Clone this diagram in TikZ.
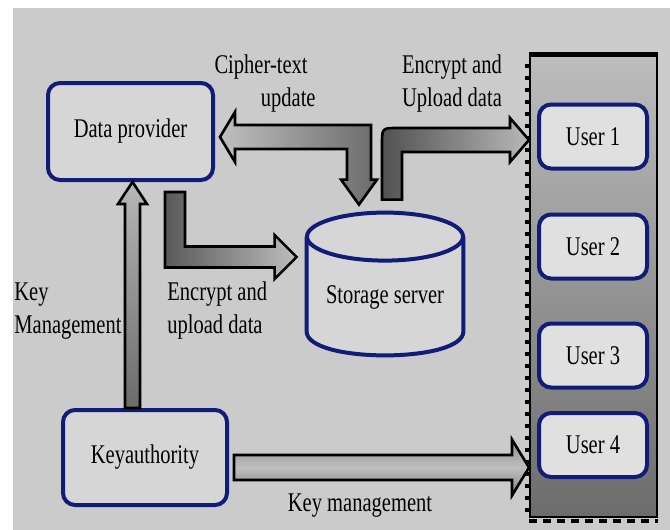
\documentclass[tikz,border=0pt]{standalone}
\usepackage{fontspec}
\setmainfont{Liberation Serif}[FakeStretch=0.76]
\usetikzlibrary{calc}
\definecolor{bggray}{HTML}{CBCBCB}
\definecolor{navyline}{RGB}{18,28,120}
\definecolor{boxfill}{HTML}{D6D6D6}
\definecolor{userfill}{HTML}{E0E0E0}
\definecolor{panellight}{HTML}{BDBDBD}
\definecolor{paneldark}{HTML}{6C6C6C}
\tikzset{
  roundbox/.style={draw=navyline, line width=2pt, rounded corners=6pt, fill=boxfill},
  userbox/.style={roundbox, fill=userfill, minimum width=54pt, minimum height=32pt},
  blockarrow/.style={draw=black, line width=1.3pt, line join=miter},
}
\begin{document}
\begin{tikzpicture}[x=0.5pt, y=-0.5pt,
  every node/.style={font=\fontsize{13.5}{16.5}\selectfont, inner sep=0pt}]
\useasboundingbox (0,0) rectangle (670,530);
\fill[bggray] (13,8) rectangle (670,530);

% user panel
\node[draw=black, line width=1pt, top color=panellight, bottom color=paneldark,
      minimum width=63.5pt, minimum height=231pt] (users) at (593.5,286) {};
\draw[line width=2.5pt] (users.north west) -- (users.north east);
\draw[dash pattern=on 2pt off 4pt, line width=2pt]
  ($(users.north west)+(-2,10)$) -- ($(users.south west)+(-2,0)$);
\draw[dash pattern=on 4pt off 3pt, line width=2pt]
  ($(users.south west)+(0,3)$) -- ($(users.south east)+(0,3)$);

\node[userbox] (u1) at (593,136.5) {User 1};
\node[userbox] (u2) at (593,246.5) {User 2};
\node[userbox] (u3) at (593,355.5) {User 3};
\node[userbox] (u4) at (593,445) {User 4};

% main boxes
\node[roundbox, minimum width=82.5pt, minimum height=48.5pt] (dp) at (130.5,131.5) {Data provider};
\node[roundbox, minimum width=82pt, minimum height=47.5pt] (ka) at (145,457.5) {Keyauthority};

% storage server cylinder
\node[minimum width=78pt, minimum height=71pt] (st) at (385,284) {};
\fill[boxfill] ($(st.north west)+(0,24)$) -- ($(st.south west)+(0,-24)$)
  .. controls ($(st.south west)+(0,8)$) and ($(st.south east)+(0,8)$) .. ($(st.south east)+(0,-24)$)
  -- ($(st.north east)+(0,24)$) -- cycle;
\draw[navyline, line width=2pt] ($(st.north west)+(0,24)$) -- ($(st.south west)+(0,-24)$)
  .. controls ($(st.south west)+(0,8)$) and ($(st.south east)+(0,8)$) .. ($(st.south east)+(0,-24)$)
  -- ($(st.north east)+(0,24)$);
\draw[navyline, line width=2pt, fill=boxfill] ($(st.north)+(0,24)$) ellipse [x radius=78, y radius=24];
\node (stlabel) at ($(st.center)+(0,13)$) {Storage server};

% key authority -> data provider
\coordinate (kS) at ($(ka.north)+(-12.5,0)$);
\coordinate (kT) at (kS |- dp.south);
\draw[blockarrow, top color=black!28, bottom color=black!58]
  ($(kS)+(-7.5,0)$) -- ($(kT)+(-7.5,22)$) -- ($(kT)+(-14.5,22)$) -- (kT)
  -- ($(kT)+(14.5,22)$) -- ($(kT)+(7.5,22)$) -- ($(kS)+(7.5,0)$) -- cycle;

% data provider -> storage server
\coordinate (dS) at ($(dp.south)+(44.5,10)$);
\coordinate (dT) at ($(st.west)+(-10,-27)$);
\coordinate (dC) at (dS |- dT);
\draw[blockarrow, left color=black!65, right color=black!26]
  ($(dS)+(-10,0)$) -- ($(dC)+(-10,10.5)$) -- ($(dT)+(-22,10.5)$) -- ($(dT)+(-22,22)$)
  -- (dT) -- ($(dT)+(-22,-22)$) -- ($(dT)+(-22,-10.5)$) -- ($(dC)+(10,-10.5)$)
  -- ($(dS)+(10,0)$) -- cycle;

% cipher-text update, both ways
\coordinate (cL) at ($(dp.east)+(5,5.5)$);
\coordinate (cB) at ($(st.north)+(-26,-8)$);
\coordinate (cC) at (cB |- cL);
\draw[blockarrow, left color=black!25, right color=black!58]
  (cL) -- ($(cL)+(15,-25)$) -- ($(cL)+(15,-12)$) -- ($(cC)+(12,-12)$)
  -- ($(cB)+(12,-25)$) -- ($(cB)+(18,-25)$) -- (cB) -- ($(cB)+(-18,-25)$)
  -- ($(cB)+(-12,-25)$) -- ($(cC)+(-12,12)$) -- ($(cL)+(15,12)$) -- ($(cL)+(15,25)$) -- cycle;

% storage server -> users
\coordinate (uS) at ($(st.north)+(7,-13)$);
\coordinate (uT) at ($(users.west |- u1)+(0,3.5)$);
\coordinate (uC) at (uS |- uT);
\draw[blockarrow, left color=black!68, right color=black!28]
  ($(uS)+(-10,0)$) -- ($(uC)+(-10,4)$) .. controls ($(uC)+(-10,-12)$) .. ($(uC)+(6,-12)$)
  -- ($(uT)+(-19,-12)$) -- ($(uT)+(-19,-22)$) -- (uT) -- ($(uT)+(-19,22)$)
  -- ($(uT)+(-19,12)$) -- ($(uC)+(10,12)$) -- ($(uS)+(10,0)$) -- cycle;

% key authority -> users
\coordinate (mS) at ($(ka.east)+(5,10)$);
\coordinate (mT) at (mS -| users.west);
\draw[blockarrow, top color=black!45, bottom color=black!50, middle color=black!25]
  ($(mS)+(0,-12.5)$) -- ($(mT)+(-17,-12.5)$) -- ($(mT)+(-17,-28)$) -- (mT)
  -- ($(mT)+(-17,28)$) -- ($(mT)+(-17,12.5)$) -- ($(mS)+(0,12.5)$) -- cycle;

% labels
\node[align=right, anchor=east] (lcipher) at (316,84) {Cipher-text\hspace*{4pt}\\update};
\node[align=center] (lupload) at (452,84) {Encrypt and\\Upload data};
\node[align=left, anchor=west] (lkey) at (14,311) {Key\\Management};
\node[align=left, anchor=west] (lenc) at (167,311) {Encrypt and\\upload data};
\node (lkm) at (360,506) {Key management};
\end{tikzpicture}
\end{document}
